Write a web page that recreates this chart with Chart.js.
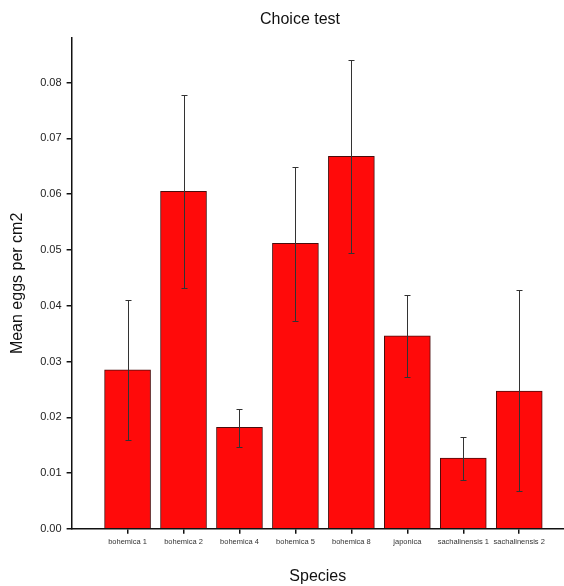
<!DOCTYPE html>
<html>
<head>
<meta charset="utf-8">
<script src="https://cdn.jsdelivr.net/npm/chart.js@4/dist/chart.umd.min.js"></script>
<style>
  html, body { margin: 0; padding: 0; background: #fff; }
  #wrap { width: 564px; height: 586px; }
</style>
</head>
<body>
<div id="wrap"><canvas id="chart"></canvas></div>
<script>
// Data
const species = ['bohemica 1', 'bohemica 2', 'bohemica 4', 'bohemica 5', 'bohemica 8', 'japonica', 'sachalinensis 1', 'sachalinensis 2'];
const means = [0.0285, 0.0605, 0.0182, 0.0512, 0.0668, 0.0346, 0.0127, 0.0247];
const errUpper = [0.0410, 0.0778, 0.0215, 0.0649, 0.0841, 0.0419, 0.0165, 0.0428];
const errLower = [0.0159, 0.0431, 0.0147, 0.0372, 0.0494, 0.0272, 0.0088, 0.0068];
const yTicks = [0, 0.01, 0.02, 0.03, 0.04, 0.05, 0.06, 0.07, 0.08];

// Error bars drawn on top of the bars
const errorBars = {
  id: 'errorBars',
  afterDatasetsDraw(chart) {
    const { ctx, scales: { x, y } } = chart;
    ctx.save();
    ctx.strokeStyle = '#333';
    ctx.lineWidth = 1;
    means.forEach((m, i) => {
      const px = Math.round(x.getPixelForValue(i + 1)) + 0.5;
      const top = Math.round(y.getPixelForValue(errUpper[i])) + 0.5;
      const bot = Math.round(y.getPixelForValue(errLower[i])) + 0.5;
      ctx.beginPath();
      ctx.moveTo(px, top);
      ctx.lineTo(px, bot);
      ctx.moveTo(px - 3, top);
      ctx.lineTo(px + 3, top);
      ctx.moveTo(px - 3, bot);
      ctx.lineTo(px + 3, bot);
      ctx.stroke();
    });
    ctx.restore();
  }
};

// Main title, placed like the reference
const mainTitle = {
  id: 'mainTitle',
  afterDraw(chart) {
    const ctx = chart.ctx;
    ctx.save();
    ctx.font = '16px "Liberation Sans", Arial, sans-serif';
    ctx.fillStyle = '#111';
    ctx.textAlign = 'center';
    ctx.textBaseline = 'middle';
    ctx.fillText('Choice test', 300, 20);
    ctx.restore();
  }
};

new Chart(document.getElementById('chart'), {
  type: 'bar',
  data: {
    datasets: [{
      data: means.map((v, i) => ({ x: i + 1, y: v })),
      backgroundColor: '#ff0a0a',
      borderColor: '#4a0c0c',
      borderWidth: 1,
      barThickness: 46
    }]
  },
  options: {
    responsive: true,
    maintainAspectRatio: false,
    animation: false,
    layout: { padding: { top: 38, right: 0, left: 5, bottom: 0 } },
    plugins: {
      legend: { display: false },
      tooltip: { enabled: false }
    },
    scales: {
      x: {
        type: 'linear',
        min: 0,
        max: 8.8,
        offset: false,
        afterBuildTicks: (axis) => { axis.ticks = species.map((s, i) => ({ value: i + 1 })); },
        ticks: {
          autoSkip: false,
          maxRotation: 0,
          padding: 4,
          color: '#333',
          font: { family: '"Liberation Sans", Arial, sans-serif', size: 7.5 },
          callback: (v) => species[v - 1] || ''
        },
        grid: { drawOnChartArea: false, drawTicks: true, tickLength: 5, color: '#111', lineWidth: 1.5, offset: false },
        border: { display: true, color: '#111', width: 1.5 },
        title: {
          display: true,
          text: 'Species',
          color: '#111',
          font: { family: '"Liberation Sans", Arial, sans-serif', size: 16 },
          padding: { top: 16, bottom: 0 }
        }
      },
      y: {
        min: 0,
        max: 0.088,
        afterBuildTicks: (axis) => { axis.ticks = yTicks.map(v => ({ value: v })); },
        ticks: {
          padding: 5,
          color: '#222',
          font: { family: '"Liberation Sans", Arial, sans-serif', size: 11 },
          callback: (v) => v.toFixed(2)
        },
        grid: { drawOnChartArea: false, drawTicks: true, tickLength: 5, color: '#111', lineWidth: 1.5 },
        border: { display: true, color: '#111', width: 1.5 },
        title: {
          display: true,
          text: 'Mean eggs per cm2',
          color: '#111',
          font: { family: '"Liberation Sans", Arial, sans-serif', size: 16 },
          padding: { top: 3, bottom: 8 }
        }
      }
    }
  },
  plugins: [errorBars, mainTitle]
});
</script>
</body>
</html>
